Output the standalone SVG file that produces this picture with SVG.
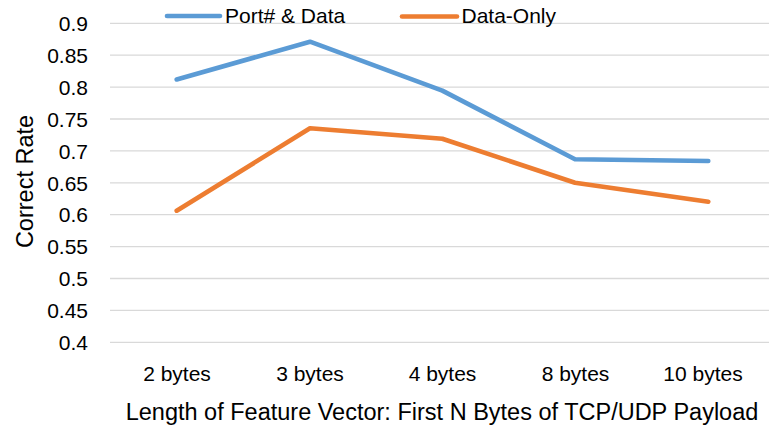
<svg xmlns="http://www.w3.org/2000/svg" width="769" height="428" viewBox="0 0 769 428">
<style>
text{font-family:"Liberation Sans",Arial,sans-serif;fill:#000}
.tick{font-size:21px}
.yt{text-anchor:end}
.cat{text-anchor:middle}
.title{font-size:23.5px}
.grid line{stroke:#D9D9D9;stroke-width:1.3}
.s{fill:none;stroke-width:4.6;stroke-linecap:round;stroke-linejoin:round}
.blue{stroke:#5B9BD5}
.orange{stroke:#ED7D31}
</style>
<rect width="769" height="428" fill="#fff"/>
<g id="gridlines" class="grid">
<line x1="110" y1="23.3" x2="769" y2="23.3"/>
<line x1="110" y1="55.2" x2="769" y2="55.2"/>
<line x1="110" y1="87.1" x2="769" y2="87.1"/>
<line x1="110" y1="119" x2="769" y2="119"/>
<line x1="110" y1="150.9" x2="769" y2="150.9"/>
<line x1="110" y1="182.8" x2="769" y2="182.8"/>
<line x1="110" y1="214.7" x2="769" y2="214.7"/>
<line x1="110" y1="246.6" x2="769" y2="246.6"/>
<line x1="110" y1="278.5" x2="769" y2="278.5"/>
<line x1="110" y1="310.4" x2="769" y2="310.4"/>
<line x1="110" y1="342.3" x2="769" y2="342.3"/>
</g>
<g id="y-axis-labels" class="tick yt">
<text x="88" y="31">0.9</text>
<text x="88" y="62.9">0.85</text>
<text x="88" y="94.8">0.8</text>
<text x="88" y="126.7">0.75</text>
<text x="88" y="158.6">0.7</text>
<text x="88" y="190.5">0.65</text>
<text x="88" y="222.4">0.6</text>
<text x="88" y="254.3">0.55</text>
<text x="88" y="286.2">0.5</text>
<text x="88" y="318.1">0.45</text>
<text x="88" y="350">0.4</text>
</g>
<g id="x-axis-labels" class="tick cat">
<text x="177" y="381">2 bytes</text>
<text x="310" y="381">3 bytes</text>
<text x="442.5" y="381">4 bytes</text>
<text x="575.5" y="381">8 bytes</text>
<text x="703" y="381">10 bytes</text>
</g>
<g id="axis-titles">
<text class="title" x="442" y="419.5" text-anchor="middle">Length of Feature Vector: First N Bytes of TCP/UDP Payload</text>
<text class="title" transform="translate(33 181.5) rotate(-90)" text-anchor="middle">Correct Rate</text>
</g>
<g id="connectors">
<polyline id="series-port-data" class="s blue" points="176.7,79.5 310,41.7 442.3,90.6 575,159.3 708.3,161"/>
<polyline id="series-data-only" class="s orange" points="176.7,210.7 310,128.3 442.3,138.8 575,182.7 708.3,201.7"/>
</g>
<g id="legend">
<g id="legend-port-data">
<line class="s blue" x1="167" y1="16" x2="220" y2="16"/>
<text class="tick" x="225" y="23">Port# &amp; Data</text>
</g>
<g id="legend-data-only">
<line class="s orange" x1="402" y1="16.5" x2="457" y2="16.5"/>
<text class="tick" x="461.5" y="23">Data-Only</text>
</g>
</g>
</svg>
